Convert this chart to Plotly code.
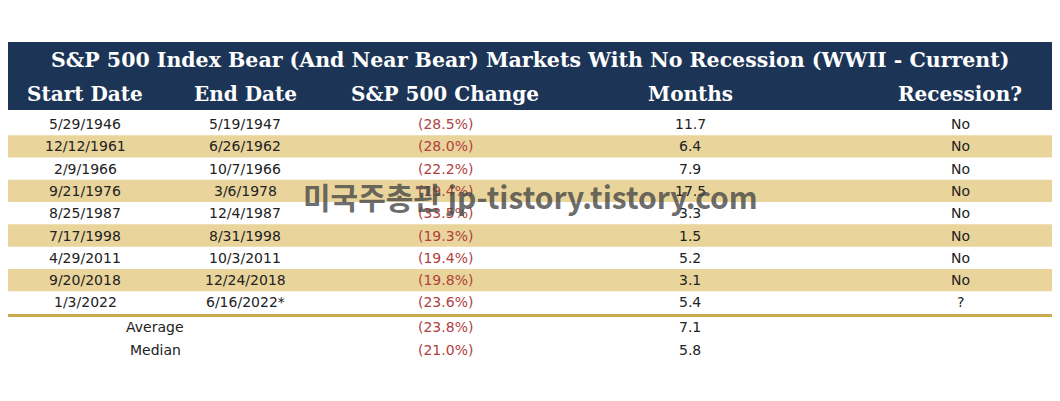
import plotly.graph_objects as go

title = "This Bear Market Looks Pretty Normal So Far"
subtitle = "S&P 500 Index Bear (And Near Bear) Markets With No Recession (WWII - Current)"
headers = ["Start Date", "End Date", "S&P 500 Change", "Months", "Recession?"]
start_dates = ["5/29/1946", "12/12/1961", "2/9/1966", "9/21/1976", "8/25/1987", "7/17/1998", "4/29/2011", "9/20/2018", "1/3/2022"]
end_dates = ["5/19/1947", "6/26/1962", "10/7/1966", "3/6/1978", "12/4/1987", "8/31/1998", "10/3/2011", "12/24/2018", "6/16/2022*"]
changes = [-28.5, -28.0, -22.2, -19.4, -33.5, -19.3, -19.4, -19.8, -23.6]
months = [11.7, 6.4, 7.9, 17.5, 3.3, 1.5, 5.2, 3.1, 5.4]
recession = ["No", "No", "No", "No", "No", "No", "No", "No", "?"]
summary_labels = ["Average", "Median"]
summary_change = [-23.8, -21.0]
summary_months = [7.1, 5.8]
source = "Source: Ryan Detrick, YCharts 7/24/2022"
watermark = "미국주총관 jp-tistory.tistory.com"

W, H = 1060, 401
OX, OY = 8, 8  # page body margin
navy = "#1c3557"
tan = "#e9d59c"
red = "#b0413e"
dark = "#222"
cols = [85, 245, 445, 690, 960]
row0, dy = 124, 22.3

fig = go.Figure()
shapes, ann = [], []
shapes.append(dict(type="rect", x0=0, x1=W + OX, y0=42, y1=110, fillcolor=navy, line_width=0, layer="below"))
shapes.append(dict(type="line", x0=0, x1=W + OX, y0=2, y1=2, line=dict(color="#999", width=1)))

def fmt(v):
    return f"({abs(v):.1f}%)"

for i in range(len(start_dates)):
    y = row0 + i * dy
    if i % 2 == 1:
        shapes.append(dict(type="rect", x0=0, x1=W + OX, y0=y - dy / 2, y1=y + dy / 2, fillcolor=tan, line_width=0, layer="below"))
    vals = [start_dates[i], end_dates[i], fmt(changes[i]), f"{months[i]:.1f}", recession[i]]
    for j, v in enumerate(vals):
        ann.append(dict(x=cols[j], y=y, text=v, showarrow=False,
                        font=dict(family="DejaVu Sans", size=14, color=red if j == 2 else dark)))
ysep = row0 + len(start_dates) * dy - dy / 2 + 2
shapes.append(dict(type="line", x0=0, x1=W + OX, y0=ysep, y1=ysep, line=dict(color="#c9a94f", width=3)))
for k, lab in enumerate(summary_labels):
    y = 327 + k * 23
    ann.append(dict(x=155, y=y, text=lab, showarrow=False, font=dict(family="DejaVu Sans", size=14, color=dark)))
    ann.append(dict(x=cols[2], y=y, text=fmt(summary_change[k]), showarrow=False, font=dict(family="DejaVu Sans", size=14, color=red)))
    ann.append(dict(x=cols[3], y=y, text=f"{summary_months[k]:.1f}", showarrow=False, font=dict(family="DejaVu Sans", size=14, color=dark)))

ann.append(dict(x=4, y=21, text=f"<b>{title}</b>", showarrow=False, xanchor="left",
                font=dict(family="DejaVu Serif", size=27, color=navy)))
ann.append(dict(x=W / 2, y=60, text=f"<b>{subtitle}</b>", showarrow=False,
                font=dict(family="DejaVu Serif", size=20.5, color="white")))
for j, h in enumerate(headers):
    ann.append(dict(x=cols[j], y=94, text=f"<b>{h}</b>", showarrow=False,
                    font=dict(family="DejaVu Serif", size=20, color="white")))
ann.append(dict(x=2, y=392, text=source, showarrow=False, xanchor="left",
                font=dict(family="DejaVu Sans", size=12, color=dark)))
ann.append(dict(x=530, y=196, text=f"<b>{watermark}</b>", showarrow=False,
                font=dict(family="Noto Sans CJK KR", size=30, color="rgba(70,70,70,0.8)")))

fig.update_layout(width=W, height=H, margin=dict(l=0, r=0, t=0, b=0),
                  paper_bgcolor="white", plot_bgcolor="white", shapes=shapes, annotations=ann,
                  xaxis=dict(range=[OX, W + OX], visible=False, fixedrange=True),
                  yaxis=dict(range=[H + OY, OY], visible=False, fixedrange=True), showlegend=False)
fig.write_html("out.html", config={"displayModeBar": False})
